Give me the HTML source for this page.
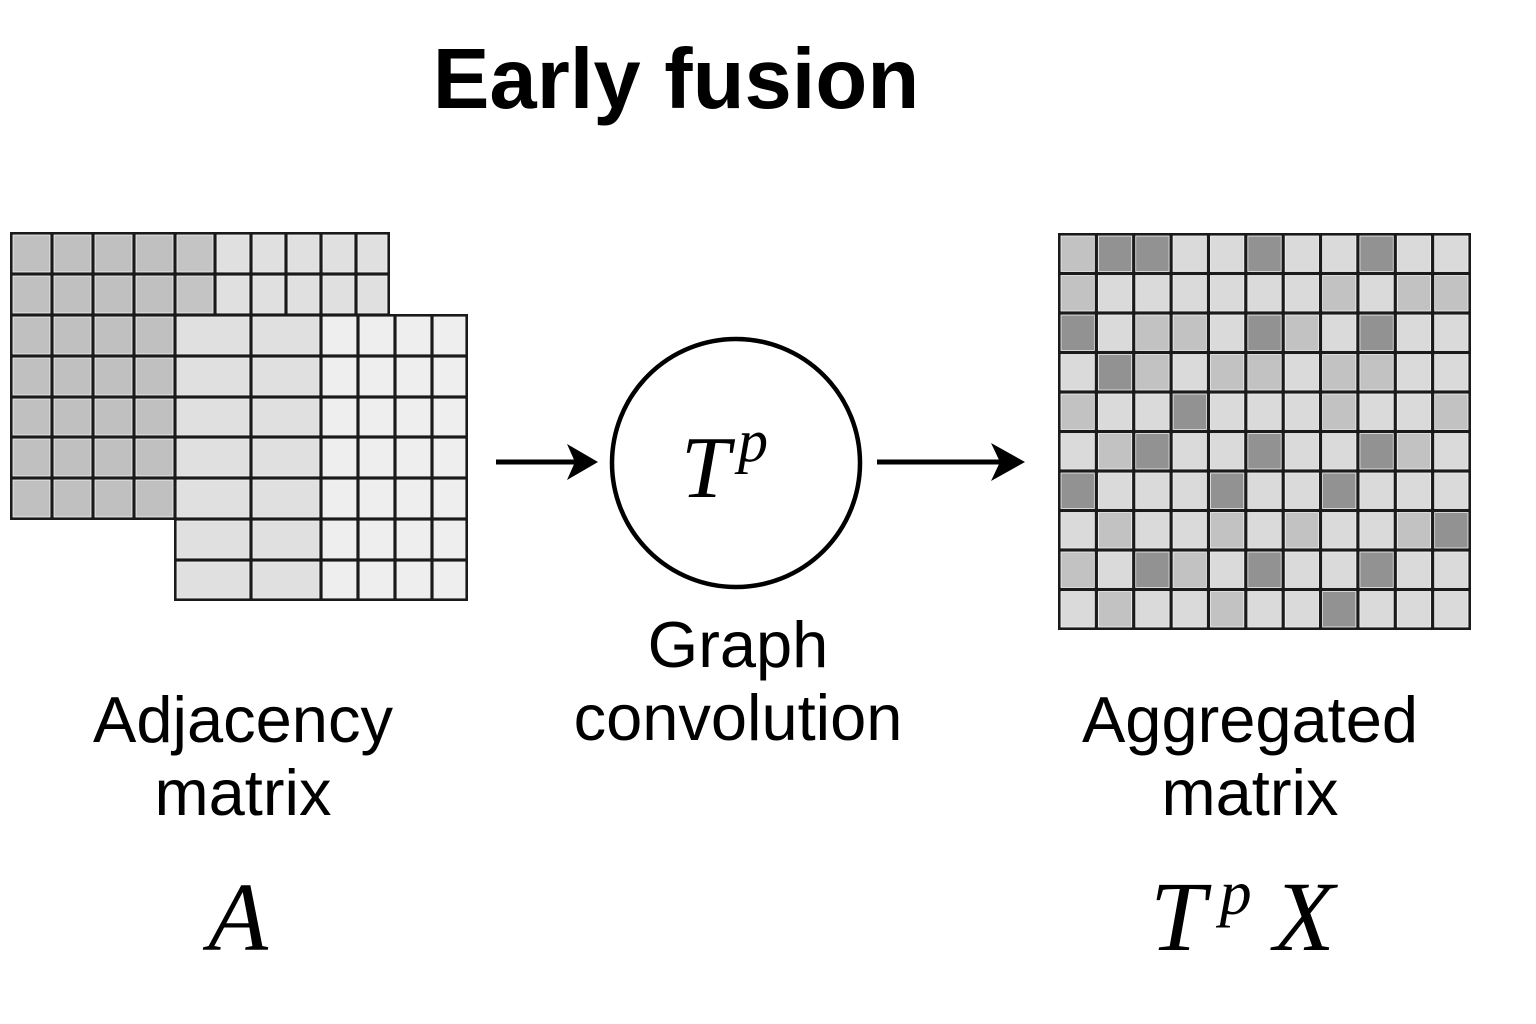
<!DOCTYPE html>
<html><head><meta charset="utf-8"><style>
html,body{margin:0;padding:0;background:#fff;}
svg{display:block;}
.lbl{font-family:"Liberation Sans",sans-serif;font-size:65px;fill:#000;text-anchor:middle;}
.math{font-family:"Liberation Serif",serif;font-style:italic;fill:#000;}
</style></head><body>
<svg id="fig" width="1536" height="1024" viewBox="0 0 1536 1024" xmlns="http://www.w3.org/2000/svg">
<text x="676" y="108" font-family="Liberation Sans,sans-serif" font-weight="bold" font-size="85" text-anchor="middle">Early fusion</text>
<g id="left"></g>
<line x1="496" y1="462" x2="575" y2="462" stroke="#000" stroke-width="5"/>
<polygon points="598,462 567,444 575,462 567,480" fill="#000"/>
<circle cx="736" cy="463" r="124" fill="#fff" stroke="#000" stroke-width="4.5"/>
<text x="681" y="497" class="math" font-size="88">T<tspan dx="8" dy="-36" font-size="60">p</tspan></text>
<line x1="877" y1="462" x2="1000" y2="462" stroke="#000" stroke-width="5"/>
<polygon points="1025,462 991,443 1000,462 991,481" fill="#000"/>
<g id="right"></g>
<text class="lbl" x="243" y="742">Adjacency</text>
<text class="lbl" x="243" y="815">matrix</text>
<text class="lbl" x="738" y="667">Graph</text>
<text class="lbl" x="738" y="740">convolution</text>
<text class="lbl" x="1250" y="742">Aggregated</text>
<text class="lbl" x="1250" y="815">matrix</text>
<text x="238" y="950" class="math" font-size="98" text-anchor="middle">A</text>
<text x="1150" y="950" class="math" font-size="100">T<tspan dx="14" dy="-36" font-size="64">p</tspan><tspan dx="22" dy="36">X</tspan></text>
</svg>
<script>
const NS="http://www.w3.org/2000/svg";
const aggLevels=[
[1,2,2,0,0,2,0,0,2,0,0],
[1,0,0,0,0,0,0,1,0,1,1],
[2,0,1,1,0,2,1,0,2,0,0],
[0,2,1,0,1,1,0,1,1,0,0],
[1,0,0,2,0,0,0,1,0,0,1],
[0,1,2,0,0,2,0,0,2,1,0],
[2,0,0,0,2,0,0,2,0,0,0],
[0,1,0,0,1,0,1,0,0,1,2],
[1,0,2,1,0,2,0,0,2,0,0],
[0,1,0,0,1,0,0,2,0,0,0]];
const shades=["#dadada","#c2c2c2","#929292"];
const backCols=[11,52,93,134,175,215,251,286,321,356,389];
const backRows=[233,274,315,356,397,437,478,519];
const backFill=["#c0c0c0","#c0c0c0","#c0c0c0","#c0c0c0","#c4c4c4","#e0e0e0","#e0e0e0","#e0e0e0","#e0e0e0","#e0e0e0"];
const frontCols=[175,251,321,358,395,432,467];
const frontRows=[315,356,397,437,478,519,560,600];
const frontFill=["#e0e0e0","#e0e0e0","#eeeeee","#eeeeee","#eeeeee","#eeeeee"];
function grid(g,cols,rows,fillFn,name){
  const bg=document.createElementNS(NS,"rect");
  bg.setAttribute("x",cols[0]-1);bg.setAttribute("y",rows[0]-1);
  bg.setAttribute("width",cols[cols.length-1]-cols[0]+2);bg.setAttribute("height",rows[rows.length-1]-rows[0]+2);
  bg.setAttribute("fill","#1a1a1a");
  
  
  g.appendChild(bg);
  for(let r=0;r<rows.length-1;r++)for(let c=0;c<cols.length-1;c++){
    const e=document.createElementNS(NS,"rect");
    e.setAttribute("x",cols[c]+2);e.setAttribute("y",rows[r]+2);
    e.setAttribute("width",cols[c+1]-cols[c]-4);e.setAttribute("height",rows[r+1]-rows[r]-4);
    e.setAttribute("fill",fillFn(r,c));
    e.setAttribute("stroke","#f4f4f4");e.setAttribute("stroke-width","0.8");
    
    
    g.appendChild(e);
  }
}
const L=document.getElementById("left");
grid(L,backCols,backRows,(r,c)=>backFill[c],"back-matrix");
grid(L,frontCols,frontRows,(r,c)=>frontFill[c],"front-matrix");
const R=document.getElementById("right");
const x0=1059,x1=1470,y0=234,y1=629;
const nC=aggLevels[0].length,nR=aggLevels.length;
const rc=[],rr=[];
for(let i=0;i<=nC;i++)rc.push(x0+(x1-x0)*i/nC);
for(let i=0;i<=nR;i++)rr.push(y0+(y1-y0)*i/nR);
grid(R,rc,rr,(r,c)=>shades[aggLevels[r][c]],"aggregated");
</script>
</body></html>
